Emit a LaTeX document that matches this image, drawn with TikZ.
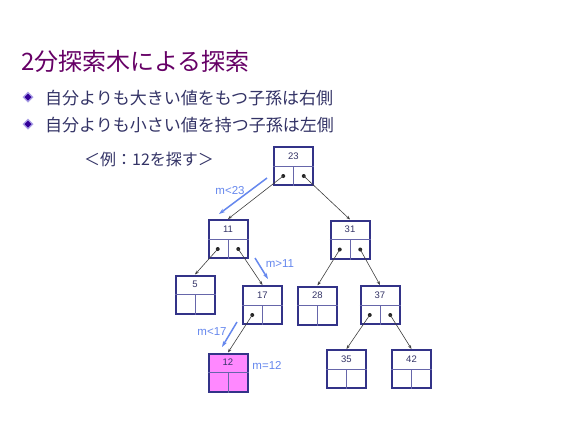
\documentclass[tikz,border=0pt]{standalone}
\usepackage{fontspec}
\setsansfont{Liberation Sans}
\newfontfamily\jpfont{Noto Sans CJK JP}
\usetikzlibrary{calc,arrows.meta}

\definecolor{titlepurple}{RGB}{102,0,102}
\definecolor{textnavy}{RGB}{51,51,102}
\definecolor{boxnavy}{RGB}{51,51,136}
\definecolor{cellline}{RGB}{102,102,170}
\definecolor{hintblue}{RGB}{102,136,238}
\definecolor{foundpink}{RGB}{255,136,255}
\definecolor{bulletlight}{RGB}{170,160,230}
\definecolor{bulletdark}{RGB}{51,0,153}

\tikzset{
  keycell/.style={draw=boxnavy,line width=2pt,minimum width=39pt,minimum height=38pt,inner sep=0pt},
  keytext/.style={font=\sffamily\fontsize{9.5}{10}\selectfont,text=textnavy,inner sep=0pt},
  link/.style={draw=black!75,line width=0.6pt,-{Stealth[length=4pt,width=3pt]}},
  hint/.style={draw=hintblue,line width=1.5pt,-{Stealth[length=6pt,width=4pt]}},
  hinttext/.style={font=\sffamily\fontsize{11.5}{12}\selectfont,text=hintblue,inner sep=0pt},
  jptext/.style={font=\jpfont\fontsize{17}{18}\selectfont,text=textnavy,anchor=west,inner sep=0pt}
}

% a key box: fill, name, position, key
\newcommand{\keybox}[4][white]{%
  \node[keycell,fill=#1] (#2) at (#3) {};
  \draw[cellline,line width=0.8pt] (#2.west) -- (#2.east) (#2.center) -- (#2.south);
  \node[keytext] at ($(#2.center)!0.5!(#2.north)$) {#4};
  \coordinate (#2l) at ($(#2.center)!0.5!(#2.south west)$);
  \coordinate (#2r) at ($(#2.center)!0.5!(#2.south east)$);
}
\newcommand{\bulletmark}[1]{%
  \fill[bulletlight] (#1) ++(-5.5,0) -- ++(5.5,-5.5) -- ++(5.5,5.5) -- ++(-5.5,5.5) -- cycle;
  \fill[bulletdark] (#1) ++(-3.5,0) -- ++(3.5,-3.5) -- ++(3.5,3.5) -- ++(-3.5,3.5) -- cycle;
}

\begin{document}
\begin{tikzpicture}[x=1pt,y=-1pt]
\useasboundingbox[fill=white] (0,0) rectangle (566,424);

% Title and the two rules
\node[anchor=west,inner sep=0pt,font=\jpfont\fontsize{24}{26}\selectfont,text=titlepurple] (title) at (21,61) {2分探索木による探索};
\bulletmark{28,97}
\bulletmark{28,124}
\node[jptext] (rule1) at (45,98) {自分よりも大きい値をもつ子孫は右側};
\node[jptext] (rule2) at (45,125) {自分よりも小さい値を持つ子孫は左側};
\node[jptext,font=\jpfont\fontsize{16}{17}\selectfont] (example) at (84,159) {＜例：12を探す＞};

% The key boxes of the tree
\keybox{n23}{293.5,166}{23}
\keybox{n11}{228,239}{11}
\keybox{n31}{350,239.5}{31}
\keybox{n5}{195,294.5}{5}
\keybox{n17}{262.5,305}{17}
\keybox{n28}{317.5,305.5}{28}
\keybox{n37}{380,305}{37}
\keybox[foundpink]{n12}{228,372.5}{12}
\keybox{n35}{346.5,369}{35}
\keybox{n42}{411.5,369}{42}

% Pointers from the cells to the children
\foreach \p in {n23l,n23r,n11l,n11r,n31l,n31r,n17l,n37l,n37r}
  \fill[black!85] (\p) circle (2pt);
\draw[link] (n23l) -- (n11.north);
\draw[link] (n23r) -- (n31.north);
\draw[link] (n11l) -- (n5.north);
\draw[link] (n11r) -- (n17.north);
\draw[link] (n31l) -- (n28.north);
\draw[link] (n31r) -- (n37.north);
\draw[link] (n17l) -- (n12.north);
\draw[link] (n37l) -- (n35.north);
\draw[link] (n37r) -- (n42.north);

% The search path for 12
\draw[hint] (267,178) -- (219,214);
\node[hinttext] (c23) at (230,191) {m<23};
\draw[hint] (255,258) -- (268,279);
\node[hinttext] (c11) at (280,264) {m>11};
\draw[hint] (237,322) -- (222,347);
\node[hinttext] (c17) at (212,332) {m<17};
\node[hinttext] (c12) at (267,365) {m=12};

\end{tikzpicture}
\end{document}
